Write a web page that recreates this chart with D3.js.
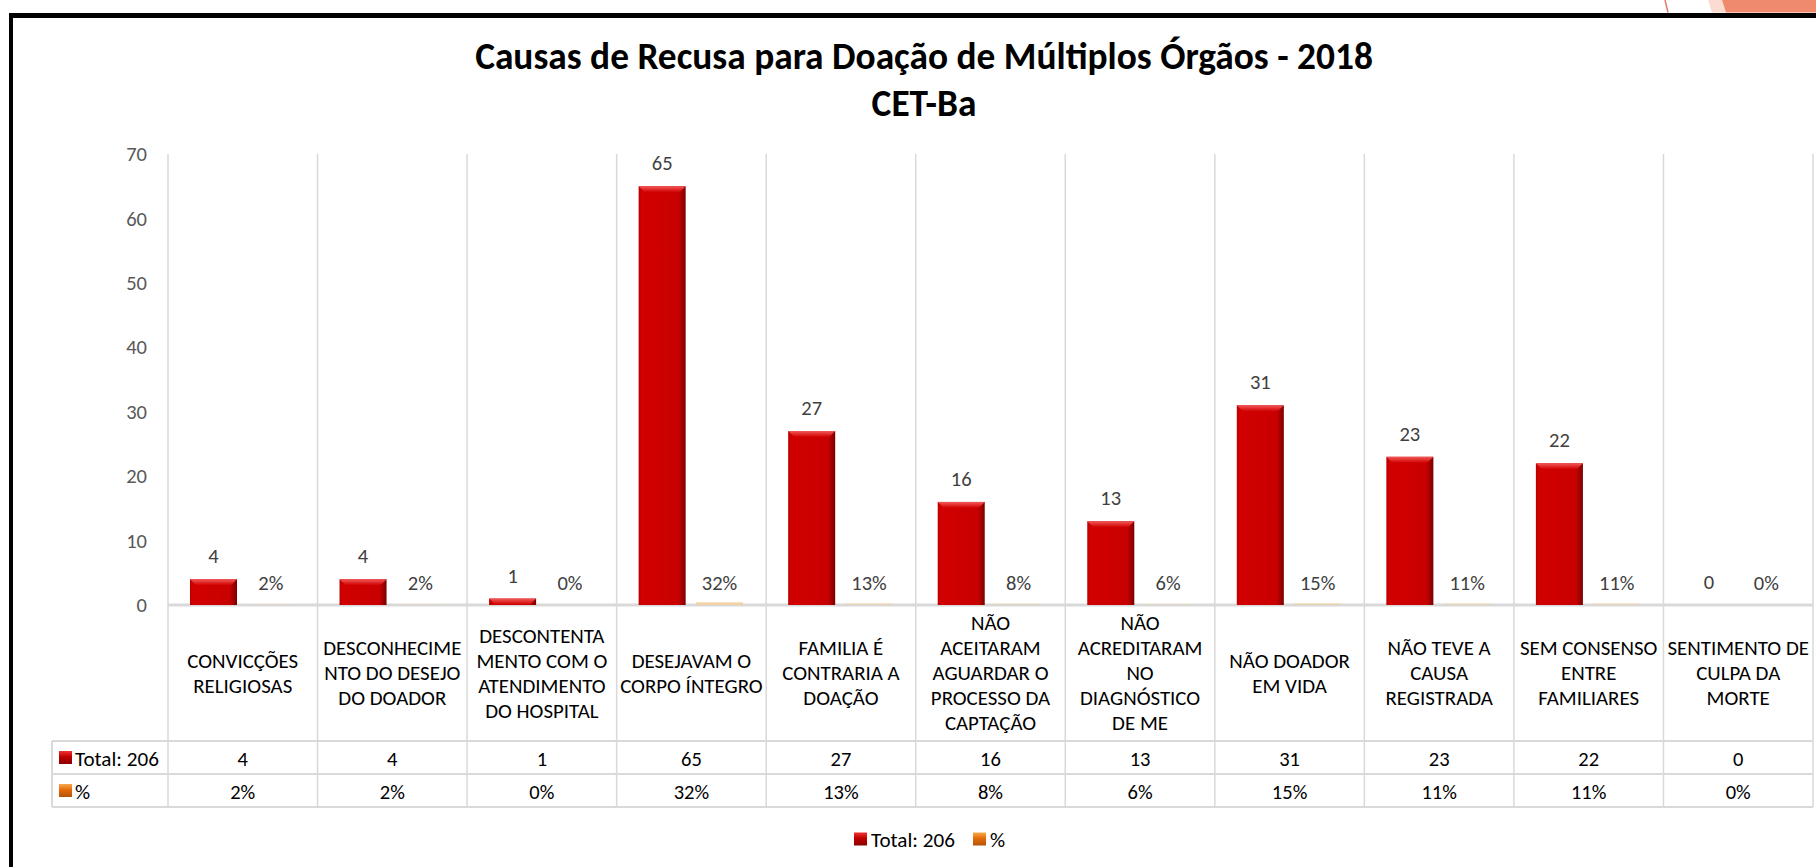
<!DOCTYPE html>
<html>
<head>
<meta charset="utf-8">
<script src="https://cdn.jsdelivr.net/npm/d3@7/dist/d3.min.js"></script>
<style>
  html,body{margin:0;padding:0;background:#fff;}
  svg{display:block;}
</style>
</head>
<body>
<svg id="chart" width="1816" height="867"></svg>
<script>
// ---------------- DATA ----------------
const titleLines = ["Causas de Recusa para Doação de Múltiplos Órgãos - 2018", "CET-Ba"];
const categories = [
  ["CONVICÇÕES","RELIGIOSAS"],
  ["DESCONHECIME","NTO DO DESEJO","DO DOADOR"],
  ["DESCONTENTA","MENTO COM O","ATENDIMENTO","DO HOSPITAL"],
  ["DESEJAVAM O","CORPO ÍNTEGRO"],
  ["FAMILIA É","CONTRARIA A","DOAÇÃO"],
  ["NÃO","ACEITARAM","AGUARDAR O","PROCESSO DA","CAPTAÇÃO"],
  ["NÃO","ACREDITARAM","NO","DIAGNÓSTICO","DE ME"],
  ["NÃO DOADOR","EM VIDA"],
  ["NÃO TEVE A","CAUSA","REGISTRADA"],
  ["SEM CONSENSO","ENTRE","FAMILIARES"],
  ["SENTIMENTO DE","CULPA DA","MORTE"]
];
const totals = [4, 4, 1, 65, 27, 16, 13, 31, 23, 22, 0];
const pcts   = [2, 2, 0, 32, 13, 8, 6, 15, 11, 11, 0];   // percent
const seriesNames = ["Total: 206", "%"];
const yTicks = [0, 10, 20, 30, 40, 50, 60, 70];

// ---------------- SETUP ----------------
const svg = d3.select("#chart");
const FONT = "Carlito, Lato, 'Open Sans', sans-serif";

function measure(text, size, weight) {
  const t = svg.append("text").attr("font-family", FONT).attr("font-size", size)
    .attr("font-weight", weight || "normal").text(text);
  const w = t.node().getComputedTextLength();
  t.remove();
  return w;
}
const bodySize  = 20 * 111 / measure("CONVICÇÕES", 20);
const numSize   = 20 * 35.5 / measure("13%", 20);
const labelSize = 20 * 84 / measure("Total: 206", 20);
const titleSize = 30 * 898 / measure(titleLines[0], 30, "bold");

const defs = svg.append("defs");
function hGrad(id, stops) {
  const g = defs.append("linearGradient").attr("id", id).attr("x1", 0).attr("x2", 1).attr("y1", 0).attr("y2", 0);
  stops.forEach(s => g.append("stop").attr("offset", s[0]).attr("stop-color", s[1]));
}
function vGrad(id, stops) {
  const g = defs.append("linearGradient").attr("id", id).attr("x1", 0).attr("x2", 0).attr("y1", 0).attr("y2", 1);
  stops.forEach(s => g.append("stop").attr("offset", s[0]).attr("stop-color", s[1]));
}
hGrad("redBar", [[0, "#b80000"], [0.07, "#d20000"], [0.85, "#c80000"], [1, "#7a0000"]]);
vGrad("redTop", [[0, "#f25a5a"], [1, "#d00000"]]);
vGrad("redKey", [[0, "#e33"], [0.45, "#c00000"], [1, "#8a0000"]]);
vGrad("orKey", [[0, "#f7a94a"], [0.45, "#e46c0a"], [1, "#b5530a"]]);

// background
svg.append("rect").attr("width", 1816).attr("height", 867).attr("fill", "#fff");

// top-right decoration
svg.append("polygon").attr("points", "1708,0 1722,0 1726,12.5 1712,12.5").attr("fill", "#fcdcd0");
svg.append("polygon").attr("points", "1722,0 1816,0 1816,12.5 1726,12.5").attr("fill", "#f08a6c");
svg.append("line").attr("x1", 1665).attr("y1", 0).attr("x2", 1668).attr("y2", 12.5)
  .attr("stroke", "#e07a68").attr("stroke-width", 1.5);

// frame
svg.append("line").attr("x1", 9).attr("x2", 1816).attr("y1", 15.5).attr("y2", 15.5)
  .attr("stroke", "#000").attr("stroke-width", 5);
svg.append("line").attr("x1", 11).attr("x2", 11).attr("y1", 13).attr("y2", 867)
  .attr("stroke", "#000").attr("stroke-width", 4);

// ---------------- SCALES ----------------
const plotLeft = 168, plotRight = 1813, plotTop = 154, baseY = 605;
const x = d3.scaleBand().domain(d3.range(categories.length)).range([plotLeft, plotRight]).padding(0);
const colW = x.bandwidth();
const xs = d3.scaleBand().domain([0, 1]).range([colW * 0.147, colW * 0.845]).paddingInner(0.18);
const y = d3.scaleLinear().domain([0, 70]).range([baseY, plotTop]);

// table geometry
const rowTop1 = 741, rowTop2 = 774, tableBottom = 807, tableLeft = 52;
const grid = "#d9d9d9";

// vertical category lines
const bounds = d3.range(categories.length + 1).map(i => i < categories.length ? x(i) : x(categories.length - 1) + colW);
svg.append("g").selectAll("line").data(bounds).join("line")
  .attr("x1", d => d).attr("x2", d => d).attr("y1", plotTop).attr("y2", tableBottom)
  .attr("stroke", grid).attr("stroke-width", 1.5);

// horizontal table lines
svg.append("line").attr("x1", plotLeft).attr("x2", plotRight).attr("y1", baseY).attr("y2", baseY)
  .attr("stroke", grid).attr("stroke-width", 3);
[rowTop1, rowTop2, tableBottom].forEach(yy => {
  svg.append("line").attr("x1", tableLeft).attr("x2", plotRight).attr("y1", yy).attr("y2", yy)
    .attr("stroke", grid).attr("stroke-width", 2);
});
svg.append("line").attr("x1", tableLeft).attr("x2", tableLeft).attr("y1", rowTop1).attr("y2", tableBottom)
  .attr("stroke", grid).attr("stroke-width", 2);

// ---------------- Y AXIS ----------------
const yAxis = d3.axisLeft(y).tickValues(yTicks).tickSize(0).tickPadding(21);
const ga = svg.append("g").attr("transform", `translate(${plotLeft},0)`).call(yAxis);
ga.select(".domain").remove();
ga.selectAll("text").attr("font-family", FONT).attr("font-size", numSize).attr("fill", "#595959");

// ---------------- BARS ----------------
const totalBars = svg.append("g");
totals.forEach((v, i) => {
  const bx = x(i) + xs(0), bw = xs.bandwidth();
  const top = y(v), h = baseY - top;
  if (h > 0) {
    totalBars.append("rect").attr("x", bx).attr("y", top).attr("width", bw).attr("height", h)
      .attr("fill", "url(#redBar)");
    const bh = Math.min(6, h);
    totalBars.append("polygon")
      .attr("points", `${bx},${top} ${bx + bw},${top} ${bx + bw - bh},${top + bh} ${bx + bh},${top + bh}`)
      .attr("fill", "url(#redTop)");
  }
  svg.append("text").attr("x", bx + bw / 2).attr("y", top - 23)
    .attr("text-anchor", "middle").attr("dominant-baseline", "central")
    .attr("font-family", FONT).attr("font-size", numSize).attr("fill", "#404040").text(v);
});
pcts.forEach((p, i) => {
  const bx = x(i) + xs(1), bw = xs.bandwidth();
  const top = y(p / 100), h = baseY - top;
  if (h > 0.05) {
    svg.append("rect").attr("x", bx).attr("y", top - 0.6).attr("width", bw).attr("height", h + 0.6)
      .attr("fill", "#f3cf99").attr("opacity", Math.min(0.85, 0.25 + h / 2.5));
  }
  svg.append("text").attr("x", bx + bw / 2).attr("y", baseY - 22)
    .attr("text-anchor", "middle").attr("dominant-baseline", "central")
    .attr("font-family", FONT).attr("font-size", numSize).attr("fill", "#404040").text(p + "%");
});

// ---------------- TABLE TEXT ----------------
const lineH = 25, headCenter = (baseY + rowTop1) / 2;
categories.forEach((lines, i) => {
  const cx = x(i) + colW / 2;
  const t = svg.append("text").attr("text-anchor", "middle")
    .attr("font-family", FONT).attr("font-size", bodySize).attr("fill", "#000");
  lines.forEach((ln, k) => {
    t.append("tspan").attr("x", cx)
      .attr("y", headCenter + (k - (lines.length - 1) / 2) * lineH)
      .attr("dominant-baseline", "central").text(ln);
  });
});
const row1Y = (rowTop1 + rowTop2) / 2, row2Y = (rowTop2 + tableBottom) / 2;
totals.forEach((v, i) => {
  svg.append("text").attr("x", x(i) + colW / 2).attr("y", row1Y + 1)
    .attr("text-anchor", "middle").attr("dominant-baseline", "central")
    .attr("font-family", FONT).attr("font-size", numSize).attr("fill", "#000").text(v);
});
pcts.forEach((p, i) => {
  svg.append("text").attr("x", x(i) + colW / 2).attr("y", row2Y + 1)
    .attr("text-anchor", "middle").attr("dominant-baseline", "central")
    .attr("font-family", FONT).attr("font-size", numSize).attr("fill", "#000").text(p + "%");
});
// row keys
[[row1Y, "url(#redKey)", seriesNames[0]], [row2Y, "url(#orKey)", seriesNames[1]]].forEach(([ry, f, name]) => {
  svg.append("rect").attr("x", 59).attr("y", ry - 6.5).attr("width", 13).attr("height", 13).attr("fill", f);
  svg.append("text").attr("x", 75).attr("y", ry + 1).attr("dominant-baseline", "central")
    .attr("font-family", FONT).attr("font-size", labelSize).attr("fill", "#000").text(name);
});

// ---------------- LEGEND ----------------
const legY = 839;
const lg = svg.append("g");
lg.append("rect").attr("x", 854).attr("y", legY - 6.5).attr("width", 13).attr("height", 13).attr("fill", "url(#redKey)");
lg.append("text").attr("x", 871).attr("y", legY + 1).attr("dominant-baseline", "central")
  .attr("font-family", FONT).attr("font-size", labelSize).attr("fill", "#000").text(seriesNames[0]);
lg.append("rect").attr("x", 973).attr("y", legY - 6.5).attr("width", 13).attr("height", 13).attr("fill", "url(#orKey)");
lg.append("text").attr("x", 990).attr("y", legY + 1).attr("dominant-baseline", "central")
  .attr("font-family", FONT).attr("font-size", labelSize).attr("fill", "#000").text(seriesNames[1]);

// ---------------- TITLE ----------------
svg.append("text").attr("x", 924).attr("y", 69).attr("text-anchor", "middle")
  .attr("font-family", FONT).attr("font-weight", "bold").attr("font-size", titleSize)
  .attr("fill", "#000").text(titleLines[0]);
svg.append("text").attr("x", 924).attr("y", 116).attr("text-anchor", "middle")
  .attr("font-family", FONT).attr("font-weight", "bold").attr("font-size", titleSize)
  .attr("fill", "#000").text(titleLines[1]);
</script>
</body>
</html>
